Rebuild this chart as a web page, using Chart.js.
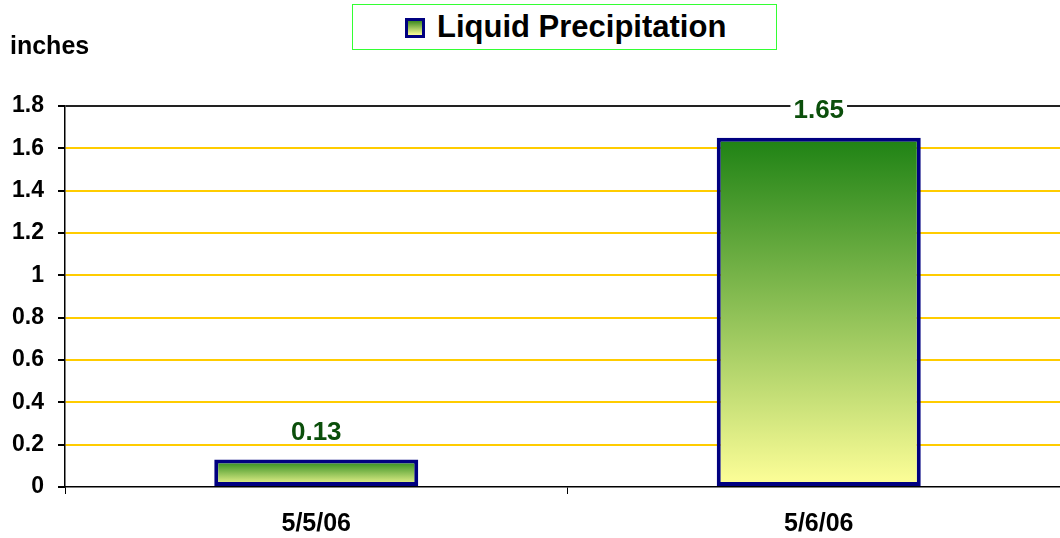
<!DOCTYPE html>
<html>
<head>
    <title>Liquid Precipitation</title>
    <meta charset="utf-8">
    <script src="https://cdn.jsdelivr.net/npm/chart.js"></script>
    <style>
        body {
            margin: 0;
            overflow: hidden;
            background: #fff;
            font-family: "Liberation Sans", Arial, sans-serif;
        }

        #chart-container {
            position: relative;
            width: 1080px;
            height: 538px;
        }

        #units {
            position: absolute;
            left: 10px;
            top: 33px;
            font-size: 25px;
            font-weight: bold;
            line-height: 1;
        }

        #legend-box {
            position: absolute;
            left: 352px;
            top: 4px;
            width: 423px;
            height: 44px;
            border: 1px solid #33ff33;
            background: #fff;
        }

        #legend-swatch {
            position: absolute;
            left: 52px;
            top: 13px;
            width: 14px;
            height: 14px;
            border: 3px solid #000080;
            background: linear-gradient(#3f8a22, #ffff99);
        }

        #legend-text {
            position: absolute;
            left: 84px;
            top: 6px;
            font-size: 31px;
            font-weight: bold;
            line-height: 1;
        }
    </style>
</head>
<body>
    <div id="chart-container">
        <canvas id="precip" width="1080" height="538"></canvas>
        <div id="units">inches</div>
        <div id="legend-box">
            <div id="legend-swatch"></div>
            <div id="legend-text">Liquid Precipitation</div>
        </div>
    </div>
    <script>
        // chart data
        var dates = ['5/5/06', '5/6/06'];
        var precipValues = [0.13, 1.65];
        var yTickLabels = ['0', '0.2', '0.4', '0.6', '0.8', '1', '1.2', '1.4', '1.6', '1.8'];

        // bar fill: green at the top fading to pale yellow at the base
        function barGradient(ctx) {
            var chart = ctx.chart;
            if (!chart.chartArea || ctx.type !== 'data') {
                return '#ffff99';
            }
            var y = chart.scales.y;
            var top = y.getPixelForValue(ctx.parsed.y);
            var bottom = y.getPixelForValue(0);
            var g = chart.ctx.createLinearGradient(0, top, 0, bottom);
            g.addColorStop(0, '#1e8214');
            g.addColorStop(1, '#ffff99');
            return g;
        }

        // value labels above the bars, on a white patch
        var valueLabels = {
            id: 'valueLabels',
            afterDatasetsDraw: function (chart) {
                var c = chart.ctx;
                var meta = chart.getDatasetMeta(0);
                c.save();
                c.font = 'bold 26px "Liberation Sans", Arial, sans-serif';
                c.textAlign = 'center';
                c.textBaseline = 'middle';
                meta.data.forEach(function (bar, i) {
                    var txt = String(precipValues[i]);
                    var w = c.measureText(txt).width;
                    var ly = bar.y - 28;
                    c.fillStyle = '#fff';
                    c.fillRect(bar.x - w / 2 - 3, ly - 11, w + 6, 22);
                    c.fillStyle = '#0b4f0b';
                    c.fillText(txt, bar.x, ly + 1);
                });
                c.restore();
            }
        };

        var ctx = document.getElementById('precip').getContext('2d');
        var precipChart = new Chart(ctx, {
            type: 'bar',
            data: {
                labels: dates,
                datasets: [{
                    label: 'Liquid Precipitation',
                    data: precipValues,
                    backgroundColor: barGradient,
                    borderColor: '#000080',
                    borderWidth: 4,
                    borderSkipped: false,
                    categoryPercentage: 1,
                    barPercentage: 0.406
                }]
            },
            options: {
                responsive: false,
                animation: false,
                layout: {
                    padding: { top: 106, right: 10, left: 0, bottom: 0 }
                },
                plugins: {
                    legend: { display: false },
                    tooltip: { enabled: false }
                },
                scales: {
                    x: {
                        afterFit: function (scale) { scale.height = 51; },
                        grid: {
                            offset: true,
                            drawOnChartArea: false,
                            tickLength: 7,
                            tickColor: '#000'
                        },
                        border: { color: '#000', width: 1.5 },
                        ticks: {
                            color: '#000',
                            padding: 15,
                            font: { family: '"Liberation Sans", Arial, sans-serif', size: 25, weight: 'bold' }
                        }
                    },
                    y: {
                        min: 0,
                        max: 1.8,
                        afterFit: function (scale) { scale.width = 65; },
                        grid: {
                            color: function (c) {
                                if (c.tick.value === 0) return 'rgba(0,0,0,0)';
                                if (c.tick.value > 1.75) return '#222';
                                return '#ffcc00';
                            },
                            lineWidth: 2,
                            tickLength: 7,
                            tickColor: '#000'
                        },
                        border: { color: '#000', width: 1.5 },
                        ticks: {
                            stepSize: 0.2,
                            color: '#000',
                            padding: 14,
                            font: { family: '"Liberation Sans", Arial, sans-serif', size: 23, weight: 'bold' },
                            callback: function (value, index) {
                                return yTickLabels[index];
                            }
                        }
                    }
                }
            },
            plugins: [valueLabels]
        });
    </script>
</body>
</html>
